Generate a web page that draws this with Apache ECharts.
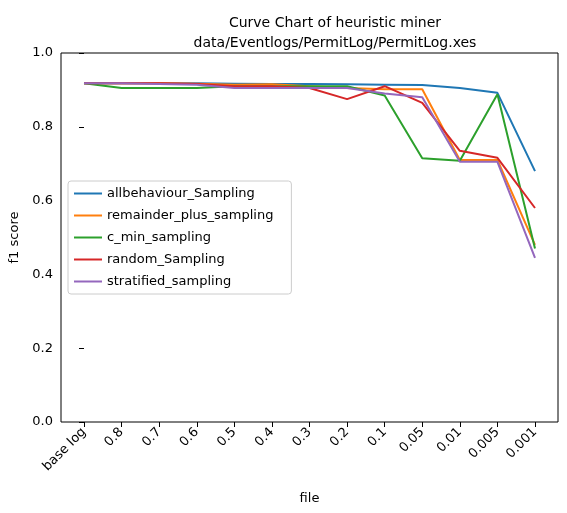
<!DOCTYPE html>
<html>
<head>
<meta charset="utf-8">
<script src="https://cdn.jsdelivr.net/npm/echarts@6/dist/echarts.min.js"></script>
<style>html,body{margin:0;padding:0;background:#fff}#chart{width:567px;height:513px}</style>
</head>
<body>
<div id="chart"></div>
<script>
const categories = ['base log', '0.8', '0.7', '0.6', '0.5', '0.4', '0.3', '0.2', '0.1', '0.05', '0.01', '0.005', '0.001']
const allbehaviour = [0.918, 0.918, 0.918, 0.918, 0.917, 0.916, 0.916, 0.915, 0.914, 0.913, 0.905, 0.892, 0.68]
const remainder = [0.918, 0.918, 0.918, 0.917, 0.914, 0.915, 0.91, 0.905, 0.902, 0.902, 0.71, 0.71, 0.48]
const cMin = [0.918, 0.905, 0.905, 0.905, 0.91, 0.91, 0.91, 0.91, 0.885, 0.715, 0.708, 0.888, 0.47]
const random = [0.918, 0.918, 0.918, 0.916, 0.91, 0.91, 0.905, 0.875, 0.91, 0.865, 0.735, 0.716, 0.58]
const stratified = [0.918, 0.918, 0.916, 0.914, 0.905, 0.905, 0.905, 0.905, 0.89, 0.88, 0.705, 0.705, 0.445]

const names = ['allbehaviour_Sampling', 'remainder_plus_sampling', 'c_min_sampling', 'random_Sampling', 'stratified_sampling']
const colors = ['#1f77b4', '#ff7f0e', '#2ca02c', '#d62728', '#9467bd']
const seriesData = [allbehaviour, remainder, cMin, random, stratified]

const font = 'DejaVu Sans'
const chart = echarts.init(document.getElementById('chart'))
chart.setOption({
  animation: false,
  textStyle: { fontFamily: font },
  title: {
    text: 'Curve Chart of heuristic miner\ndata/Eventlogs/PermitLog/PermitLog.xes',
    left: 330, top: 8, textAlign: 'center',
    textStyle: { fontFamily: font, fontSize: 14, fontWeight: 'normal', color: '#000', lineHeight: 20 }
  },
  legend: {
    orient: 'vertical', left: 68, top: 181,
    data: names,
    itemWidth: 28, itemHeight: 2, itemGap: 9,
    icon: 'rect',
    backgroundColor: '#fff', borderColor: '#ccc', borderWidth: 1, borderRadius: 3,
    padding: [6, 18, 6, 6],
    textStyle: { fontFamily: font, fontSize: 13, color: '#000' }
  },
  grid: { left: 84, right: 32, top: 53, bottom: 91 },
  xAxis: {
    type: 'value', min: 0, max: 12, interval: 1,
    name: 'file', nameLocation: 'middle', nameGap: 70,
    nameTextStyle: { fontFamily: font, fontSize: 13, color: '#000' },
    axisLine: { show: false },
    axisTick: { show: true, lineStyle: { color: '#000' } },
    axisLabel: { rotate: 45, color: '#000', fontSize: 13, fontFamily: font, formatter: v => categories[v] },
    splitLine: { show: false }
  },
  yAxis: {
    type: 'value', min: 0, max: 1, interval: 0.2, offset: 23,
    name: 'f1 score', nameLocation: 'middle', nameGap: 38,
    nameTextStyle: { fontFamily: font, fontSize: 13, color: '#000' },
    axisLine: { show: false },
    axisTick: { show: true, lineStyle: { color: '#000' } },
    axisLabel: { color: '#000', fontSize: 13, fontFamily: font, formatter: v => v.toFixed(1) },
    splitLine: { show: false }
  },
  series: seriesData.map((d, i) => ({
    name: names[i], type: 'line', data: d.map((v, j) => [j, v]), showSymbol: false, z: 2,
    lineStyle: { width: 2, color: colors[i] }, itemStyle: { color: colors[i] }
  })),
  graphic: [{
    type: 'rect', shape: { x: 61, y: 53, width: 497, height: 369 },
    style: { fill: 'none', stroke: '#000', lineWidth: 1 }, silent: true, z: 0
  }]
})
</script>
</body>
</html>
